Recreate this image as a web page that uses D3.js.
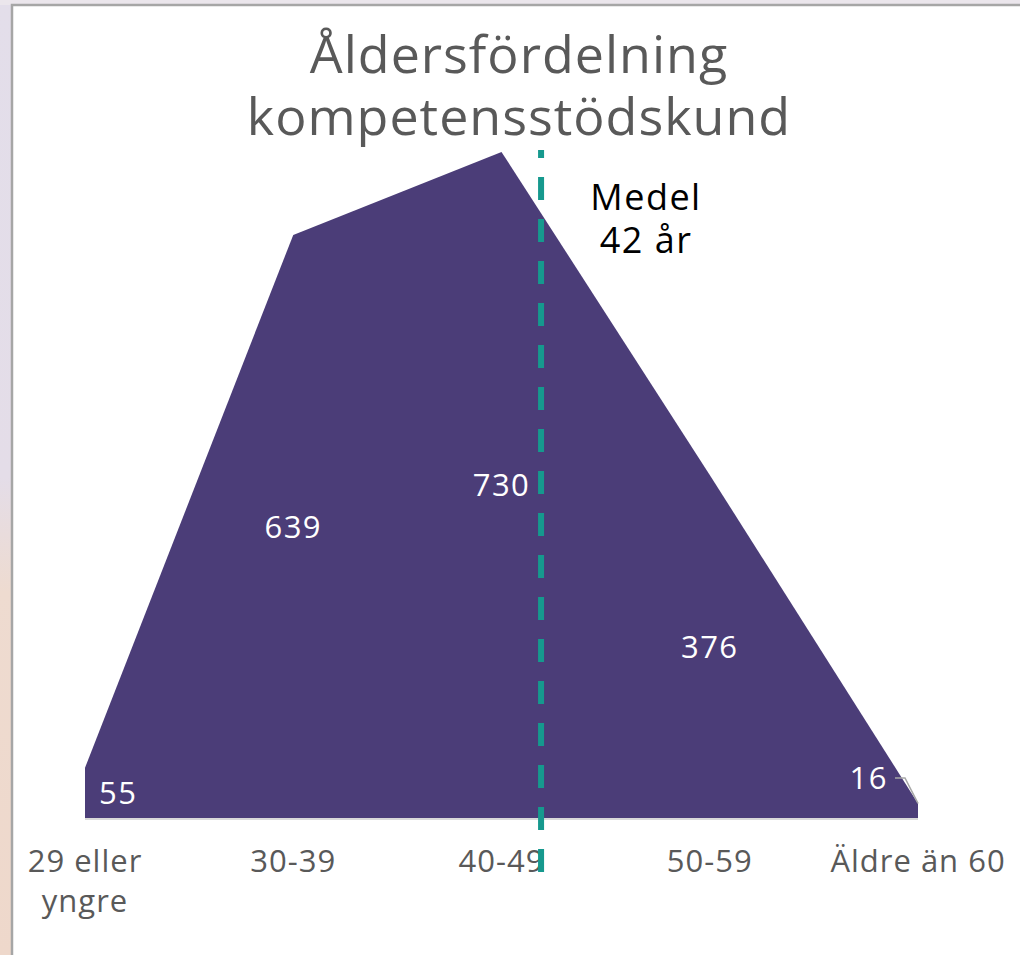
<!DOCTYPE html>
<html lang="sv">
<head>
<meta charset="UTF-8">
<script src="https://cdn.jsdelivr.net/npm/d3@7/dist/d3.min.js"></script>
<style>
  body { margin: 0; background: #fff; }
  svg { display: block; font-family: "Open Sans", sans-serif; }
  .cat { fill: #595959; font-size: 31px; letter-spacing: 1px; }
  .val { fill: #fff; font-size: 31px; letter-spacing: 1.5px; }
</style>
</head>
<body>
<svg></svg>
<script>
// data
var categories = ["29 eller yngre", "30-39", "40-49", "50-59", "Äldre än 60"];
var catLines = [["29 eller", "yngre"], ["30-39"], ["40-49"], ["50-59"], ["Äldre än 60"]];
var counts = [55, 639, 730, 376, 16];
var meanAge = 42;
var meanIndex = 2.19; // where the mean marker sits on the category axis
var titleLines = ["Åldersfördelning", "kompetensstödskund"];

var W = 1020, H = 955;
var svg = d3.select("svg").attr("width", W).attr("height", H);

// blurred backdrop outside the frame
var defs = svg.append("defs");
var g1 = defs.append("linearGradient").attr("id", "bg").attr("x1", 0).attr("y1", 0).attr("x2", 0).attr("y2", 1);
g1.append("stop").attr("offset", "0%").attr("stop-color", "#e3deea");
g1.append("stop").attr("offset", "50%").attr("stop-color", "#e4dde8");
g1.append("stop").attr("offset", "62%").attr("stop-color", "#eedbd0");
g1.append("stop").attr("offset", "100%").attr("stop-color", "#eed8cb");
svg.append("rect").attr("width", W).attr("height", H).attr("fill", "url(#bg)");
svg.append("rect").attr("x", 0).attr("y", 0).attr("width", W).attr("height", 5).attr("fill", "#ebe6ec");

// frame
svg.append("rect").attr("x", 12).attr("y", 5).attr("width", W).attr("height", H)
  .attr("fill", "#fff").attr("stroke", "#a6a6a6").attr("stroke-width", 2.5);

var x = d3.scalePoint().domain(categories).range([85, 918]);
var xi = d3.scaleLinear().domain([0, categories.length - 1]).range([85, 918]);
var y = d3.scaleLinear().domain([0, 800]).range([818, 88]);

var data = categories.map(function(c, i) { return {cat: c, v: counts[i], i: i}; });

// title
svg.append("text").attr("text-anchor", "middle")
  .attr("fill", "#595959").style("font-size", "52px").style("letter-spacing", "1px")
  .selectAll("tspan").data(titleLines).enter().append("tspan")
  .attr("x", 519).attr("y", function(d, i) { return 73 + i * 62; })
  .text(function(d) { return d; });

// area
var area = d3.area()
  .x(function(d) { return x(d.cat); })
  .y0(y(0))
  .y1(function(d) { return y(d.v); });
svg.append("path").datum(data).attr("d", area).attr("fill", "#4b3d78");

// baseline
svg.append("line").attr("x1", x(categories[0])).attr("x2", x(categories[4]))
  .attr("y1", y(0) + 1).attr("y2", y(0) + 1)
  .attr("stroke", "#d9d9d9").attr("stroke-width", 2);

// category labels
var cat = svg.selectAll(".cat").data(data).enter().append("text")
  .attr("class", "cat").attr("text-anchor", "middle")
  .attr("transform", function(d) { return "translate(" + x(d.cat) + ",872)"; });
cat.selectAll("tspan").data(function(d) { return catLines[d.i]; }).enter().append("tspan")
  .attr("x", 0).attr("y", function(d, i) { return i * 40; })
  .text(function(d) { return d; });

// value labels
svg.selectAll(".val").data(data).enter().append("text")
  .attr("class", "val")
  .attr("text-anchor", function(d) { return d.i === 0 ? "start" : (d.i === 4 ? "end" : "middle"); })
  .attr("x", function(d) {
    if (d.i === 0) return x(d.cat) + 14;
    if (d.i === 4) return x(d.cat) - 30;
    return x(d.cat);
  })
  .attr("y", function(d) {
    if (d.i === 4) return y(0) - 40;
    return (y(d.v) + y(0)) / 2;
  })
  .attr("dy", "0.36em")
  .text(function(d) { return d.v; });

// leader line for the smallest value
var last = data[4];
svg.append("polyline")
  .attr("points", [[x(last.cat) - 23, y(0) - 40], [x(last.cat) - 13, y(0) - 40], [x(last.cat), y(last.v)]].join(" "))
  .attr("fill", "none").attr("stroke", "#a6a6a6").attr("stroke-width", 1.5);

// mean marker
var mx = xi(meanIndex);
svg.append("line").attr("x1", mx).attr("x2", mx).attr("y1", 150).attr("y2", 872)
  .attr("stroke", "#16998e").attr("stroke-width", 6)
  .attr("stroke-dasharray", "23 19").attr("stroke-dashoffset", 15);

svg.append("text").attr("text-anchor", "middle").attr("fill", "#000")
  .style("font-size", "36px").style("letter-spacing", "1.5px")
  .selectAll("tspan").data(["Medel", meanAge + " år"]).enter().append("tspan")
  .attr("x", 646).attr("y", function(d, i) { return 210 + i * 43; })
  .text(function(d) { return d; });
</script>
</body>
</html>
